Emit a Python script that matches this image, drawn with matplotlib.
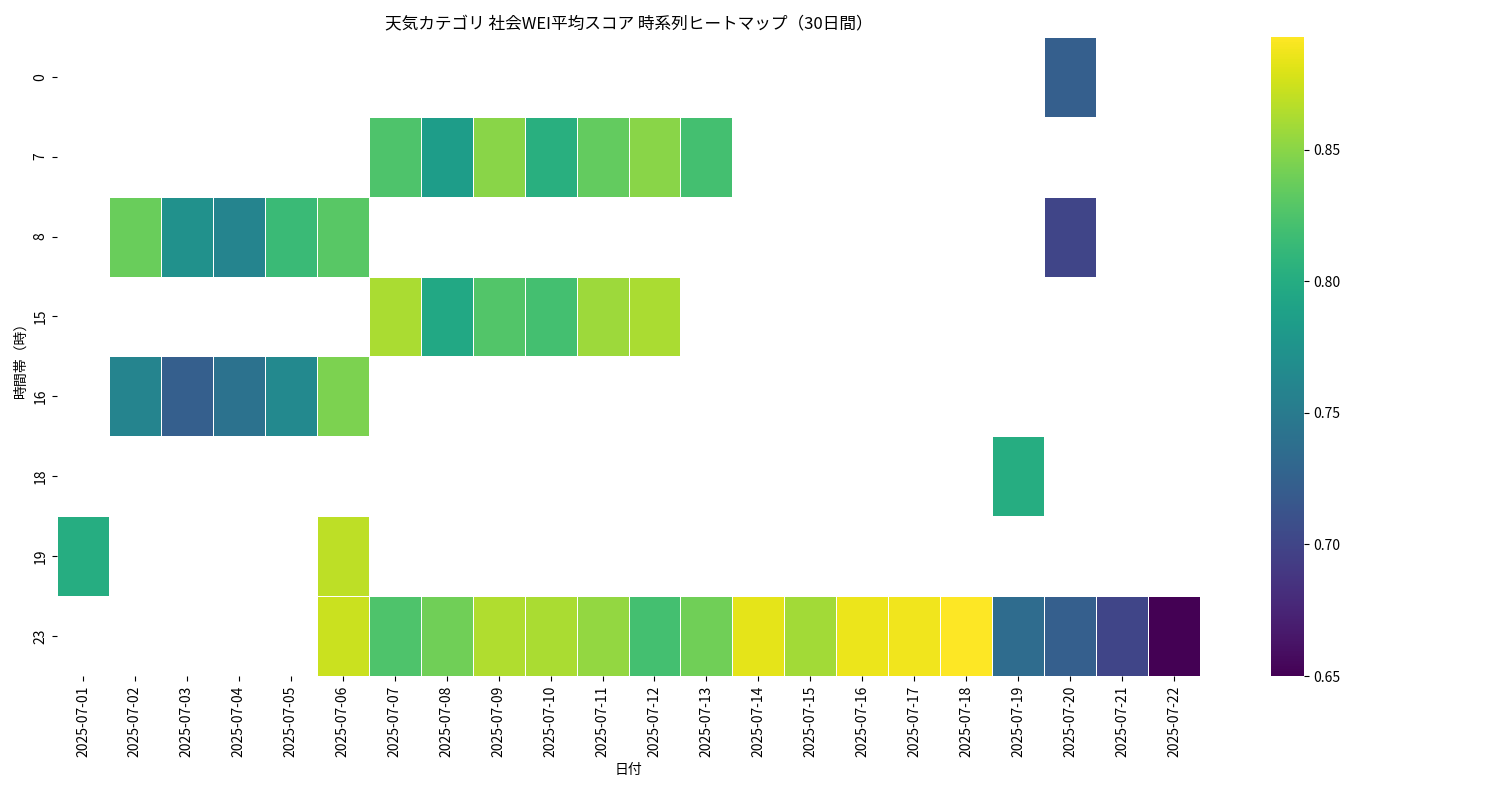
import numpy as np
import matplotlib
matplotlib.use("Agg")
import matplotlib.pyplot as plt

plt.rcParams["font.family"] = ["Noto Sans CJK JP", "DejaVu Sans"]

dates = [f"2025-07-{d:02d}" for d in range(1, 23)]
hours = [0, 7, 8, 15, 16, 18, 19, 23]

# {hour: {day index (1-based): value}}
hour_0 = {20: 0.723}
hour_7 = {7: 0.825, 8: 0.784, 9: 0.850, 10: 0.803, 11: 0.835, 12: 0.850, 13: 0.820}
hour_8 = {2: 0.837, 3: 0.772, 4: 0.760, 5: 0.815, 6: 0.830, 20: 0.700}
hour_15 = {7: 0.862, 8: 0.796, 9: 0.827, 10: 0.820, 11: 0.857, 12: 0.862}
hour_16 = {2: 0.760, 3: 0.723, 4: 0.742, 5: 0.764, 6: 0.845}
hour_18 = {19: 0.800}
hour_19 = {1: 0.800, 6: 0.869}
hour_23 = {6: 0.874, 7: 0.825, 8: 0.840, 9: 0.864, 10: 0.862, 11: 0.854,
           12: 0.820, 13: 0.840, 14: 0.883, 15: 0.859, 16: 0.886, 17: 0.888,
           18: 0.893, 19: 0.735, 20: 0.723, 21: 0.700, 22: 0.650}
rows = [hour_0, hour_7, hour_8, hour_15, hour_16, hour_18, hour_19, hour_23]

grid = np.full((len(hours), len(dates)), np.nan)
for r, row in enumerate(rows):
    for day, v in row.items():
        grid[r, day - 1] = v
data = np.ma.masked_invalid(grid)

fig = plt.figure(figsize=(15, 8), dpi=100)
ax = fig.add_axes([0.038, 0.155, 0.762, 0.799])
cax = fig.add_axes([0.847, 0.155, 0.022, 0.799])

mesh = ax.pcolormesh(data, cmap="viridis", vmin=0.65, vmax=0.893,
                     edgecolors="white", linewidth=0.5)
ax.set_xlim(0, len(dates))
ax.set_ylim(len(hours), 0)
ax.set_xticks(np.arange(len(dates)) + 0.5)
ax.set_xticklabels(dates, rotation=90)
ax.set_yticks(np.arange(len(hours)) + 0.5)
ax.set_yticklabels(hours, rotation=90, va="center")
for s in ax.spines.values():
    s.set_visible(False)
ax.set_xlabel("日付")
ax.set_ylabel("時間帯（時）")
ax.set_title("天気カテゴリ 社会WEI平均スコア 時系列ヒートマップ（30日間）", fontsize=12)

cb = fig.colorbar(mesh, cax=cax)
cb.set_ticks([0.65, 0.70, 0.75, 0.80, 0.85])
cb.outline.set_visible(False)

fig.savefig("out.png")
